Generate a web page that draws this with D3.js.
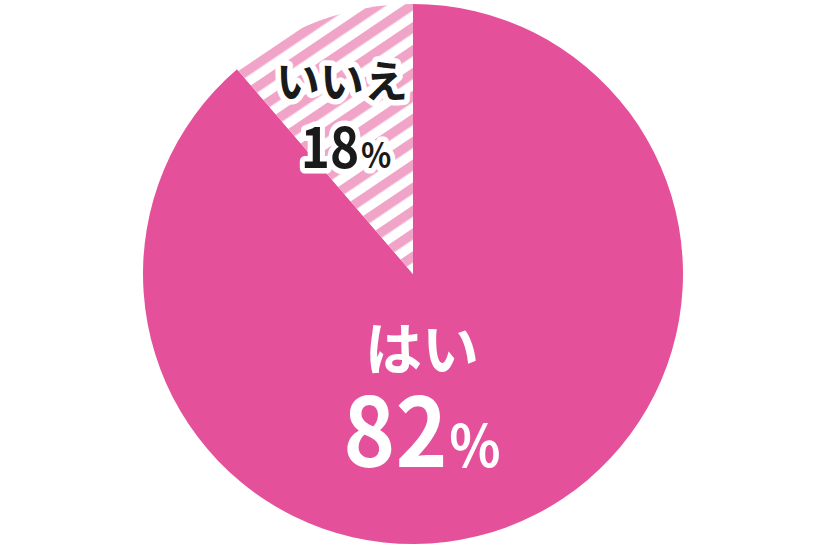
<html lang="ja">
<head>
  <meta charset="UTF-8">
  <title>はい / いいえ</title>
  <style>
    body { margin: 0; background: #fff; }
    text { font-family: "Noto Sans CJK JP", "Noto Sans", sans-serif; font-weight: 700; }
  </style>
</head>
<body>
  <script src="https://d3js.org/d3.v7.min.js"></script>
  <div id="chart"></div>
  <script>
    // answers and the printed percentages
    const categories = ["はい", "いいえ"];
    const percents = [82, 18];
    // share of the circle as it is actually drawn in the picture
    const drawnShares = [88.7, 11.3];

    const width = 822, height = 548;
    const cx = 413, cy = 274, radius = 270;

    const svg = d3.select("#chart")
      .append("svg")
      .attr("width", width)
      .attr("height", height);

    // diagonal stripes for the small slice
    const defs = svg.append("defs");
    const pat = defs.append("pattern")
      .attr("id", "stripes")
      .attr("patternUnits", "userSpaceOnUse")
      .attr("width", 19)
      .attr("height", 19)
      .attr("patternTransform", "rotate(-34)");
    pat.append("rect").attr("width", 19).attr("height", 19).attr("fill", "#fff");
    pat.append("rect").attr("width", 19).attr("height", 9.5).attr("fill", "#f0a5c8");

    const colour = d3.scaleOrdinal()
      .domain(categories)
      .range(["#e4519a", "url(#stripes)"]);

    const pie = d3.pie().sort(null).value(d => d.share);
    const arc = d3.arc().innerRadius(0).outerRadius(radius);

    const data = categories.map((c, i) => ({ name: c, share: drawnShares[i], pct: percents[i] }));

    const g = svg.append("g")
      .attr("transform", "translate(" + cx + "," + cy + ")");

    g.selectAll("path")
      .data(pie(data))
      .enter()
      .append("path")
      .attr("d", arc)
      .attr("fill", d => colour(d.data.name));

    // label for はい (white on pink)
    const yes = g.append("g").attr("transform", "translate(9,0)");
    yes.append("text")
      .attr("text-anchor", "middle")
      .attr("y", 96)
      .attr("font-size", 57)
      .attr("fill", "#fff")
      .text(data[0].name);
    const yesPct = yes.append("g").attr("transform", "translate(0,193) scale(0.92,1)")
      .append("text")
      .attr("text-anchor", "middle")
      .attr("fill", "#fff");
    yesPct.append("tspan").attr("font-size", 96).text(data[0].pct);
    yesPct.append("tspan").attr("font-size", 58).attr("dx", 2).text("%");

    // label for いいえ (black with white outline)
    const no = g.append("g").attr("transform", "translate(-71,0)");
    no.append("text")
      .attr("text-anchor", "middle")
      .attr("y", -176)
      .attr("font-size", 44)
      .attr("fill", "#1a1a1a")
      .attr("stroke", "#fff")
      .attr("stroke-width", 11)
      .attr("stroke-linejoin", "round")
      .attr("paint-order", "stroke")
      .text(data[1].name);
    const noPct = no.append("g").attr("transform", "translate(4,-106) scale(0.9,1)")
      .append("text")
      .attr("text-anchor", "middle")
      .attr("fill", "#1a1a1a")
      .attr("stroke", "#fff")
      .attr("stroke-width", 11)
      .attr("stroke-linejoin", "round")
      .attr("paint-order", "stroke");
    noPct.append("tspan").attr("font-size", 55).text(data[1].pct);
    noPct.append("tspan").attr("font-size", 35).attr("dx", 2).text("%");
  </script>
</body>
</html>
